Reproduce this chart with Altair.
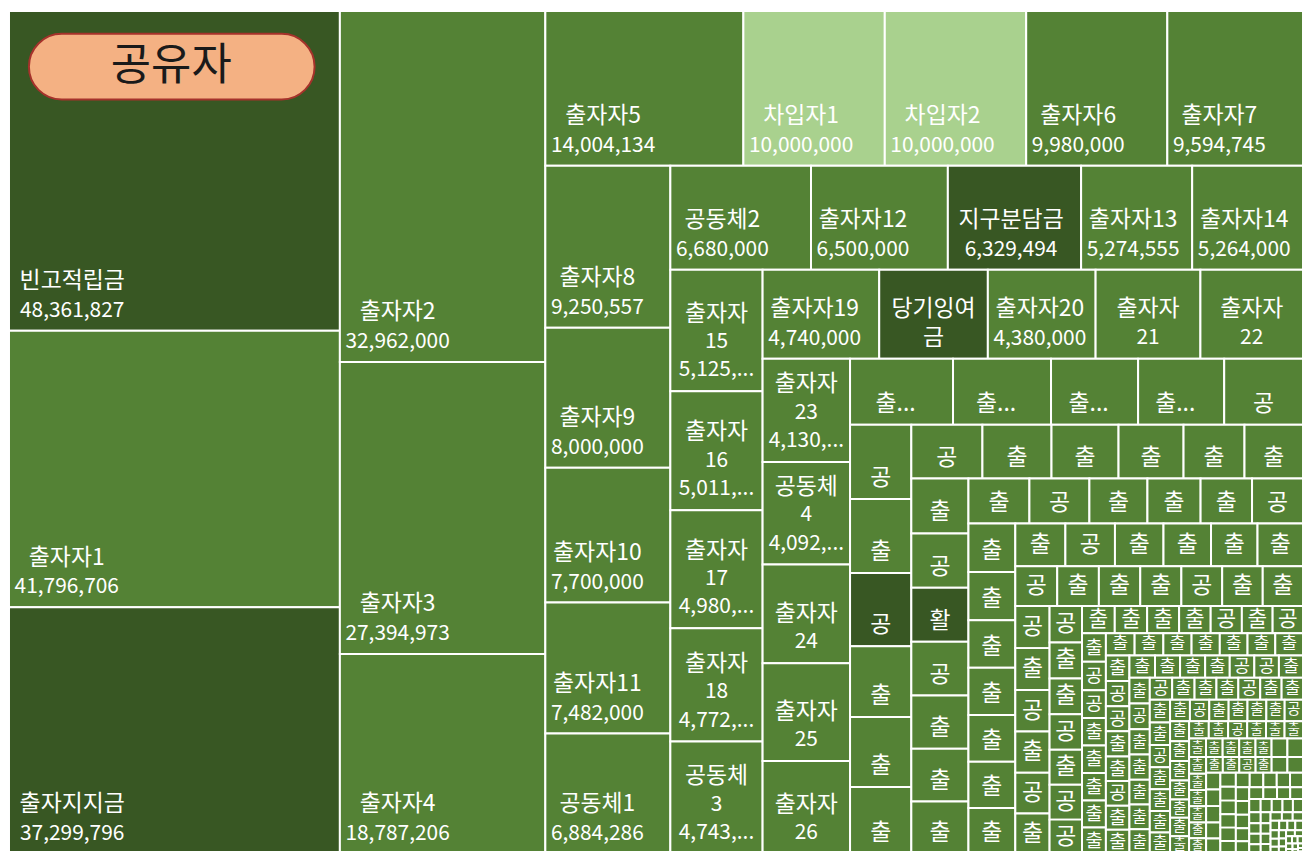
import altair as alt
import pandas as pd

W, H = 1300, 847

main_names = ["빈고적립금", "출자자1", "출자지지금", "출자자2", "출자자3", "출자자4",
              "출자자5", "차입자1", "차입자2", "출자자6", "출자자7",
              "출자자8", "출자자9", "출자자10", "출자자11", "공동체1",
              "공동체2", "출자자12", "지구분담금", "출자자13", "출자자14",
              "출자자15", "출자자16", "출자자17", "출자자18", "공동체3",
              "출자자19", "당기잉여금", "출자자20", "출자자21", "출자자22",
              "출자자23", "공동체4", "출자자24", "출자자25", "출자자26"]
main_values = [48361827, 41796706, 37299796, 32962000, 27394973, 18787206,
               14004134, 10000000, 10000000, 9980000, 9594745,
               9250557, 8000000, 7700000, 7482000, 6884286,
               6680000, 6500000, 6329494, 5274555, 5264000,
               5125400, 5011300, 4980500, 4772600, 4743200,
               4740000, 4415000, 4380000, 4260000, 4170000,
               4130500, 4092300, 3950000, 3900000, 3720000]

# smaller members, values in thousands
mid_values_k = [3110, 2960, 2630, 2600, 2380,
                2080, 2070, 2050, 1980, 1960, 1880,
                1750, 1700, 1650, 1600, 1500, 1440,
                1430, 1420, 1410, 1400, 1390, 1380, 1370,
                1250, 1230, 1190, 1090, 1055, 1045,
                1040, 1030, 1020, 1010, 1000, 990, 985,
                980, 970, 950, 930, 910, 890,
                760, 755, 750, 745, 740, 735, 730,
                660, 655, 650, 645, 640, 635,
                540, 535, 530, 525, 520, 515, 510,
                410, 405, 400, 395, 390, 385, 380]
mid_kinds = ("ccccg" "gckccc" "gccccc" "cghgccc" "cgcccg" "ccccccc"
             "cgcccc" "gcccgcc" "gcgcgc" "gccgcgg" "ccccgcg")

tail_values_k = [310, 310, 305, 300, 300, 300, 295, 290,
                 290, 290, 285, 285, 280, 280, 280,
                 275, 270, 270, 270, 265, 265, 260, 260,
                 260, 255, 255, 250, 250, 250, 245,
                 240, 240, 235, 235, 230, 230, 230,
                 225, 225, 220, 220, 220, 215, 215,
                 210, 210, 205, 205, 200, 200, 200,
                 195, 190, 190, 185, 185, 180, 180,
                 175, 170, 170, 165, 160, 160, 155,
                 155, 152, 150, 148, 146, 145, 143, 141,
                 140, 138, 136, 134, 132, 130, 128, 126,
                 125, 124, 122, 120, 118, 117, 115, 113,
                 112, 110, 108, 106, 104, 102, 100, 98,
                 96, 95, 94, 93, 92, 90, 89, 88,
                 86, 85, 84, 82, 80, 78, 77, 75,
                 72, 70, 68, 66, 64, 62, 60, 58,
                 56, 54, 52, 50, 48, 46, 45, 44,
                 42, 40, 38, 36, 35, 34, 32, 30,
                 28, 27, 26, 25, 24, 22, 20, 19,
                 18, 16, 15, 14, 12, 10, 8, 6]
tail_kinds = ("cggccccc" "ccccccc" "cggccgcc" "ccccggc" "cgccccc" "gcccgcc"
              "ccgcccc" "cgccccg" "ccccccc" "ccgccccc" "cccgcccc" "cccccgcc"
              "cccccccc" "ccgccccc" "cccccccc" "cccccccc" "cccccccc" "cccccccc"
              "cccccccc" "cccccccc")

# strips as seen in the picture: (c = column on the left, r = row on top, item count)
strip_orient = "ccrcrcrc" "rcrcrcrrccr" "crcrcrcrc"
strip_counts = [3, 3, 5, 5, 5, 5, 5, 5,
                5, 6, 6, 7, 6, 7, 6, 7, 6, 7, 7,
                8, 7, 8, 7, 7, 7, 7, 7, 7]

dark_names = ["빈고적립금", "출자지지금", "지구분담금", "당기잉여금", "공유기금", "활동비"]
group_domain = ["빈고", "출자", "차입"]
group_colors = ["#385723", "#548235", "#A9D18E"]

# ---- assemble items ----
names = list(main_names)
values = list(main_values)
nc, ng = 27, 5
for kind, vk in zip(mid_kinds + tail_kinds, mid_values_k + tail_values_k):
    if kind == "c":
        nm = f"출자자{nc}"; nc += 1
    elif kind == "g":
        nm = f"공동체{ng}"; ng += 1
    elif kind == "k":
        nm = "공유기금"
    else:
        nm = "활동비"
    names.append(nm)
    values.append(vk * 1000)


def group_of(nm):
    if nm in dark_names:
        return "빈고"
    if nm.startswith("차입"):
        return "차입"
    return "출자"


# ---- treemap layout: listed strips first, then squarified ----
def worst(row, side):
    s = sum(row)
    return max(max(side * side * r / (s * s), (s * s) / (side * side * r)) for r in row)


def layout(vals, x, y, w, h):
    total = sum(vals)
    areas = [v * w * h / total for v in vals]
    out = []
    state = [x, y, w, h]

    def place(row, as_column):
        x, y, w, h = state
        s = sum(row)
        if as_column:
            t = s / h
            yy = y
            for a in row:
                hh = a / t
                out.append((x, yy, x + t, yy + hh))
                yy += hh
            state[0] += t
            state[2] -= t
        else:
            t = s / w
            xx = x
            for a in row:
                ww = a / t
                out.append((xx, y, xx + ww, y + t))
                xx += ww
            state[1] += t
            state[3] -= t

    i = 0
    for o, cnt in zip(strip_orient, strip_counts):
        place(areas[i:i + cnt], o == "c")
        i += cnt
    n = len(areas)
    while i < n:
        x, y, w, h = state
        side = min(w, h)
        row = [areas[i]]
        j = i + 1
        while j < n and worst(row + [areas[j]], side) <= worst(row, side):
            row.append(areas[j])
            j += 1
        place(row, w >= h)
        i = j
    return out


rects = layout(values, 0.0, 0.0, W, H)

rect_rows = []
for nm, v, (x0, y0, x1, y1) in zip(names, values, rects):
    rect_rows.append(dict(x0=x0, y0=y0, x1=x1, y1=y1, name=nm, value=v, group=group_of(nm)))
rect_df = pd.DataFrame(rect_rows)


# ---- data labels (Excel-like placement) ----
def tw(s):
    t = 0
    for ch in s:
        if "\uac00" <= ch <= "\ud7a3":
            t += 23
        elif ch in ",.":
            t += 6
        else:
            t += 11.5
    return t


def has_hangul(s):
    return any("\uac00" <= ch <= "\ud7a3" for ch in s)


FS_NAME, FS_VAL = 23, 21
text_rows = []
for r in rect_rows:
    x0, y0, x1, y1 = r["x0"], r["y0"], r["x1"], r["y1"]
    w, h = x1 - x0, y1 - y0
    nm = r["name"]
    vs = f"{r['value']:,}"
    nlines = 1 if h < 86 else (2 if h < 101 else 3)
    if nlines >= 2 and max(tw(nm), tw(vs)) + 14 <= w:
        bw = max(tw(nm), tw(vs))
        cx = x0 + 6 + bw / 2
        text_rows.append(dict(x=cx, y=y1 - 50, t=nm, fs=FS_NAME))
        text_rows.append(dict(x=cx, y=y1 - 20, t=vs, fs=FS_VAL))
    elif nlines >= 2 and w >= 60:
        digits = "".join(ch for ch in nm if ch.isdigit())
        if digits:
            parts = [nm[: len(nm) - len(digits)], digits]
        else:
            parts, cur = [], ""
            for ch in nm:
                if tw(cur + ch) + 14 > w:
                    parts.append(cur)
                    cur = ch
                else:
                    cur += ch
            parts.append(cur)
        lines = parts[:nlines]
        if nlines >= 3 and len(lines) < 3:
            lines.append(vs[:6] + "...")
        cx = (x0 + x1) / 2
        k = len(lines)
        for idx, ln in enumerate(lines):
            yy = y1 - 21 - (k - 1 - idx) * 28.5
            text_rows.append(dict(x=cx, y=yy, t=ln, fs=FS_NAME if has_hangul(ln) else FS_VAL))
    else:
        m = min(w, h)
        if m < 15 or w < 16:
            continue
        fs = min(FS_NAME, 0.78 * m)
        ln = nm[0] + ("..." if w >= 83 else "")
        cx = (x0 + x1) / 2 - (6 if w >= 83 else 0)
        cy = max((y0 + y1) / 2, y1 - 21) if h >= 42 else (y0 + y1) / 2
        text_rows.append(dict(x=cx, y=cy, t=ln, fs=fs))
text_df = pd.DataFrame(text_rows)

xs = alt.Scale(domain=[0, W], nice=False, zero=False)
ys = alt.Scale(domain=[0, H], nice=False, zero=False, reverse=True)

cells = alt.Chart(rect_df).mark_rect(stroke="white", strokeWidth=2).encode(
    x=alt.X("x0:Q", scale=xs, axis=None),
    x2="x1:Q",
    y=alt.Y("y0:Q", scale=ys, axis=None),
    y2="y1:Q",
    color=alt.Color("group:N", scale=alt.Scale(domain=group_domain, range=group_colors), legend=None),
    tooltip=["name:N", alt.Tooltip("value:Q", format=",")],
)

labels = alt.Chart(text_df).mark_text(
    color="white", font="Noto Sans CJK KR", align="center", baseline="middle"
).encode(
    x=alt.X("x:Q", scale=xs, axis=None),
    y=alt.Y("y:Q", scale=ys, axis=None),
    text="t:N",
    size=alt.Size("fs:Q", scale=None, legend=None),
)

title_df = pd.DataFrame({"t": ["공유자"]})
pill = alt.Chart(title_df).mark_rect(
    fill="#F4B183", stroke="#A5322B", strokeWidth=2, cornerRadius=33
).encode(x=alt.value(20), x2=alt.value(307), y=alt.value(23), y2=alt.value(89))
pill_text = alt.Chart(title_df).mark_text(
    font="Noto Sans CJK KR", fontSize=44, color="#1a1a1a", align="center", baseline="middle"
).encode(x=alt.value(163), y=alt.value(56), text="t:N")

chart = alt.layer(cells, labels, pill, pill_text).properties(
    width=W, height=H, padding=0, background="white"
).configure_view(stroke=None)

chart.save("out.html", embed_options={"renderer": "svg", "actions": False})
